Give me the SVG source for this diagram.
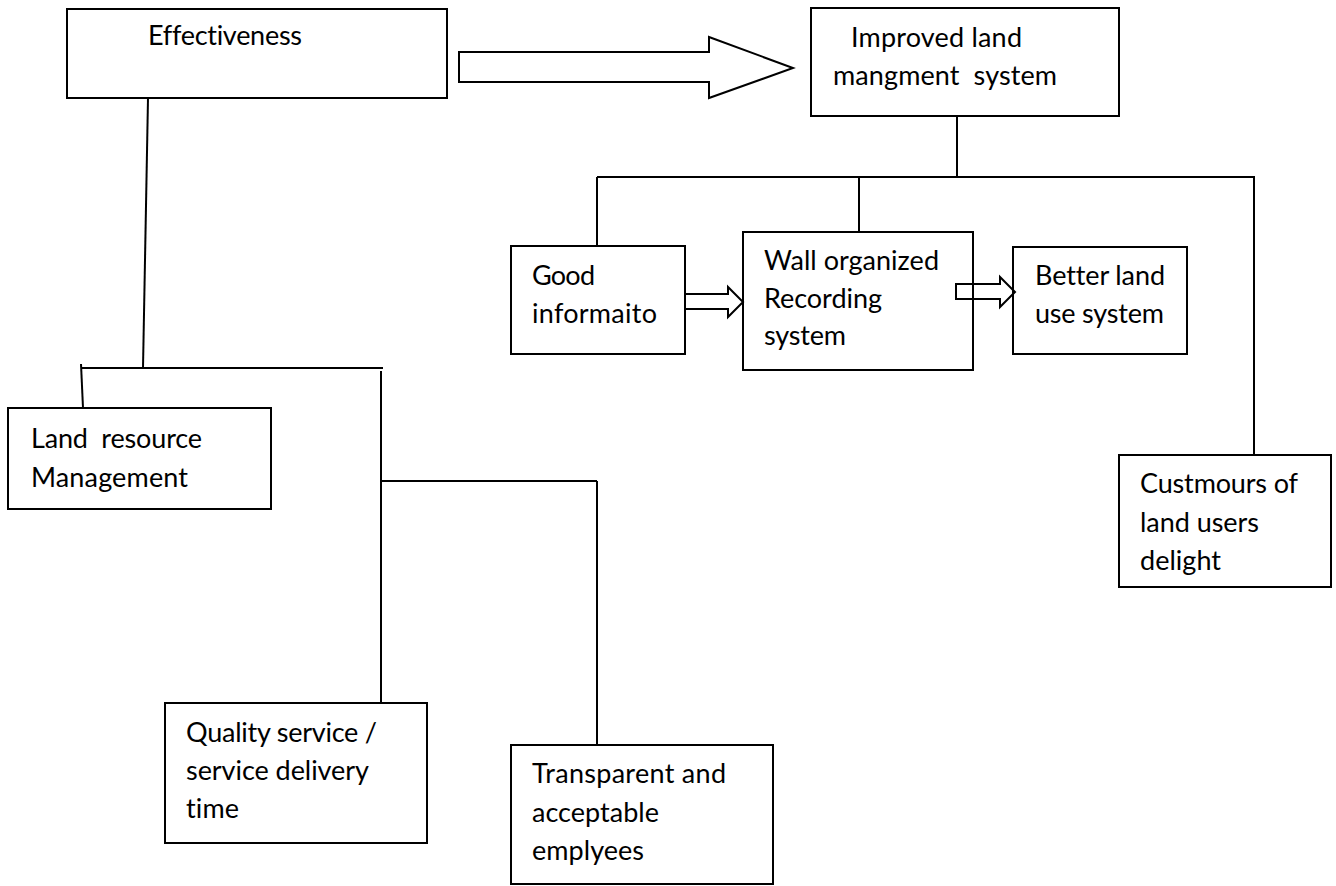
<svg xmlns="http://www.w3.org/2000/svg" width="1336" height="886" viewBox="0 0 1336 886">
<style>
.box{fill:#fff;stroke:#000;stroke-width:2}
.ln{fill:none;stroke:#000;stroke-width:2}
.ar{fill:none;stroke:#000;stroke-width:2;stroke-linejoin:miter}
text{font-family:Lato,"Open Sans","Liberation Sans",sans-serif;font-size:27px;fill:#000;white-space:pre;font-variant-ligatures:none}
</style>
<rect width="1336" height="886" fill="#fff"/>
<g id="connectors">
<line class="ln" x1="148" y1="98" x2="143" y2="368"/>
<line class="ln" x1="81" y1="368" x2="383" y2="368"/>
<line class="ln" x1="81" y1="364" x2="83" y2="408"/>
<line class="ln" x1="381" y1="371" x2="381" y2="703"/>
<line class="ln" x1="381" y1="481" x2="597" y2="481"/>
<line class="ln" x1="597" y1="481" x2="597" y2="745"/>
<line class="ln" x1="957" y1="116" x2="957" y2="177"/>
<line class="ln" x1="597" y1="177" x2="1255" y2="177"/>
<line class="ln" x1="597" y1="177" x2="597" y2="246"/>
<line class="ln" x1="859" y1="177" x2="859" y2="232"/>
<line class="ln" x1="1254" y1="177" x2="1254" y2="455"/>
</g>
<g id="n-effectiveness"><rect class="box" x="67" y="9" width="380" height="89"/><text x="148" y="45" textLength="154">Effectiveness</text></g>
<g id="n-improved"><rect class="box" x="811" y="8" width="308" height="108"/><text x="851" y="47" textLength="171">Improved land</text><text x="833" y="85" textLength="224">mangment  system</text></g>
<g id="n-good"><rect class="box" x="511" y="246" width="174" height="108"/><text x="532" y="285" textLength="63">Good</text><text x="532" y="323" textLength="125">informaito</text></g>
<g id="n-wall"><rect class="box" x="743" y="232" width="230" height="138"/><text x="764" y="270" textLength="175">Wall organized</text><text x="764" y="308" textLength="118">Recording</text><text x="764" y="345" textLength="82">system</text></g>
<g id="n-better"><rect class="box" x="1013" y="247" width="174" height="107"/><text x="1035" y="285" textLength="130">Better land</text><text x="1035" y="323" textLength="129">use system</text></g>
<g id="n-customers"><rect class="box" x="1119" y="455" width="212" height="132"/><text x="1140" y="493" textLength="158">Custmours of</text><text x="1140" y="532" textLength="119">land users</text><text x="1140" y="570" textLength="81">delight</text></g>
<g id="n-land"><rect class="box" x="8" y="408" width="263" height="101"/><text x="31" y="448" textLength="171">Land  resource</text><text x="31" y="487" textLength="157">Management</text></g>
<g id="n-quality"><rect class="box" x="165" y="703" width="262" height="140"/><text x="186" y="742" textLength="191">Quality service /</text><text x="186" y="780" textLength="183">service delivery</text><text x="186" y="818" textLength="53">time</text></g>
<g id="n-transparent"><rect class="box" x="511" y="745" width="262" height="139"/><text x="532" y="783" textLength="194">Transparent and</text><text x="532" y="822" textLength="127">acceptable</text><text x="532" y="860" textLength="112">emplyees</text></g>
<g id="arrows">
<polygon class="ar" points="459,52 709,52 709,37 793,68 709,98 709,82 459,82"/>
<polygon class="ar" points="685,294 728,294 728,287 743,302 728,317 728,309 685,309"/>
<polygon class="ar" points="956,284 1000,284 1000,277 1015,292 1000,307 1000,299 956,299"/>
</g>
</svg>
